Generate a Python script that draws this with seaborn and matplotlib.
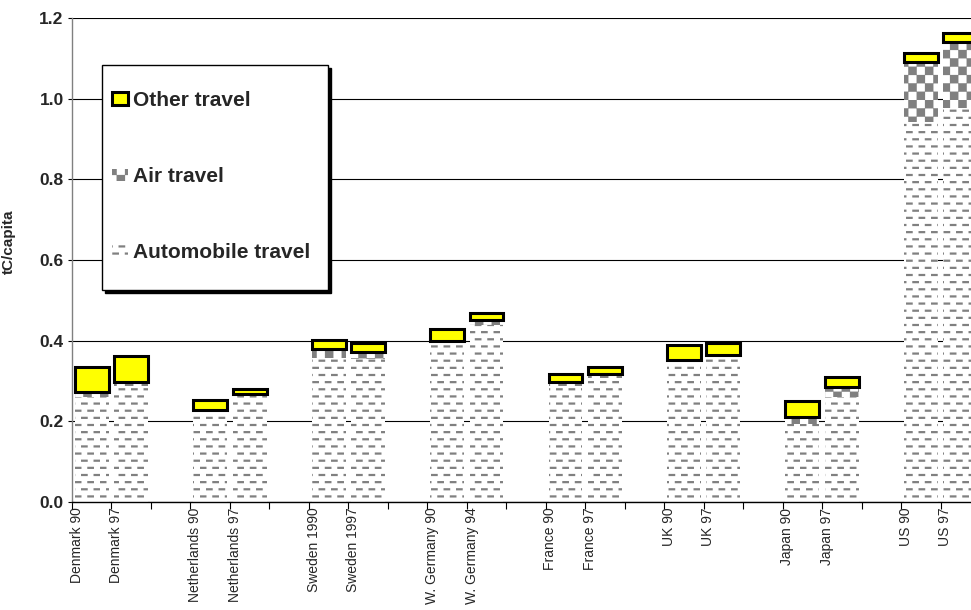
import numpy as np
import pandas as pd
import matplotlib
matplotlib.use("Agg")
import matplotlib.pyplot as plt
import matplotlib.hatch as mhatch
from matplotlib.path import Path
from matplotlib.patches import Rectangle
from matplotlib.transforms import ScaledTranslation
import seaborn as sns

# ---- data (tC per capita) ----
labels = ["Denmark 90", "Denmark 97", "Netherlands 90", "Netherlands 97",
          "Sweden 1990", "Sweden 1997", "W. Germany 90", "W. Germany 94",
          "France 90", "France 97", "UK 90", "UK 97",
          "Japan 90", "Japan 97", "US 90", "US 97"]
auto = [0.261, 0.288, 0.226, 0.265, 0.357, 0.355, 0.395, 0.439,
        0.288, 0.308, 0.347, 0.360, 0.194, 0.261, 0.943, 0.978]
air = [0.012, 0.010, 0.002, 0.003, 0.023, 0.017, 0.005, 0.013,
       0.010, 0.010, 0.005, 0.005, 0.017, 0.024, 0.149, 0.163]
other = [0.062, 0.064, 0.024, 0.013, 0.022, 0.023, 0.029, 0.017,
         0.020, 0.017, 0.038, 0.030, 0.040, 0.025, 0.020, 0.023]
series_names = ["Automobile travel", "Air travel", "Other travel"]
y_ticks = [0.0, 0.2, 0.4, 0.6, 0.8, 1.0, 1.2]


# ---- fill patterns: staggered dashes and a checkerboard ----
class DashRows(mhatch.HatchPatternBase):
    rows = 14
    dashes = 8

    def __init__(self, hatch, density):
        n = hatch.count('-')
        self.num_rows = n * self.rows
        self.num_vertices = self.num_rows * self.dashes * 2

    def set_vertices_and_codes(self, vertices, codes):
        p = 1.0 / self.dashes
        d = 0.36 * p
        k = 0
        for r in range(self.num_rows):
            y = (r + 0.5) / self.num_rows
            off = 0.0 if r % 2 == 0 else 0.5 * p
            for i in range(self.dashes):
                x0 = i * p + off + 0.07 * p
                vertices[k] = (x0, y)
                vertices[k + 1] = (x0 + d, y)
                codes[k] = Path.MOVETO
                codes[k + 1] = Path.LINETO
                k += 2


class Checker(mhatch.HatchPatternBase):
    cells = 12

    def __init__(self, hatch, density):
        n = hatch.count('x')
        self.active = n > 0
        self.num_vertices = (self.cells * self.cells // 2) * 5 if self.active else 0

    def set_vertices_and_codes(self, vertices, codes):
        s = 1.0 / self.cells
        shrink = 0.010
        k = 0
        for i in range(self.cells):
            for j in range(self.cells):
                if (i + j) % 2:
                    continue
                x0, y0 = i * s + shrink, j * s + shrink
                x1, y1 = (i + 1) * s - shrink, (j + 1) * s - shrink
                vertices[k:k + 5] = [(x0, y0), (x1, y0), (x1, y1), (x0, y1), (x0, y0)]
                codes[k:k + 5] = [Path.MOVETO, Path.LINETO, Path.LINETO,
                                  Path.LINETO, Path.CLOSEPOLY]
                k += 5


mhatch._hatch_types = [DashRows, Checker]

sns.set_theme(style="white")
plt.rcParams["font.family"] = ["Liberation Sans", "DejaVu Sans"]
plt.rcParams["hatch.linewidth"] = 1.6
plt.rcParams["hatch.color"] = "#808080"

W, H = 971, 610
fig = plt.figure(figsize=(W / 100, H / 100), dpi=100)
ax = fig.add_axes([72 / W, 108 / H, 908 / W, 484 / H])

# two bars per country, one empty slot between countries
pos = np.array([3 * (i // 2) + i % 2 for i in range(len(labels))], dtype=float)
auto_a = np.array(auto)
air_a = np.array(air)
other_a = np.array(other)

common = dict(native_scale=True, width=0.86, errorbar=None, saturation=1, ax=ax)
sns.barplot(x=pos, y=auto_a, color="white", hatch="-", edgecolor="#808080",
            linewidth=0, label=series_names[0], **common)
sns.barplot(x=pos, y=air_a, bottom=auto_a, color="white", hatch="x",
            edgecolor="#808080", linewidth=0, label=series_names[1], **common)
sns.barplot(x=pos, y=other_a, bottom=auto_a + air_a, color="#FFFF00",
            edgecolor="black", linewidth=2.2, label=series_names[2], **common)

ax.set_yticks(y_ticks)
ax.set_yticklabels([f"{v:.1f}" for v in y_ticks], fontsize=12.5, fontweight="bold")
ax.yaxis.grid(True, color="black", linewidth=0.8)
ax.set_axisbelow(True)

ax.set_xticks(pos)
ax.set_xticklabels(labels, rotation=90, fontsize=10, va="top", ha="center")
ax.set_xticks(np.arange(-0.5, pos[-1] + 1.0, 1.0), minor=True)
ax.tick_params(axis="x", which="major", length=0, pad=4)
ax.tick_params(axis="x", which="minor", length=5, width=0.8, color="black",
               direction="out", bottom=True)
ax.tick_params(axis="y", length=3, width=0.8, color="black", direction="out",
               left=True, pad=3)
shift = ScaledTranslation(-0.15, 0, fig.dpi_scale_trans)
for t in ax.get_xticklabels():
    t.set_transform(t.get_transform() + shift)

for side in ("top", "right"):
    ax.spines[side].set_visible(False)
ax.spines["left"].set_color("#808080")
ax.spines["left"].set_linewidth(1.0)
ax.spines["bottom"].set_color("black")
ax.spines["bottom"].set_linewidth(1.0)

ax.set_xlabel("")
ax.set_ylabel("tC/capita", fontsize=11, fontweight="bold")
ax.yaxis.set_label_coords(-0.062, 0.537)

# legend box with a hard drop shadow
bx, by, bw, bh = 102 / W, 1 - 290 / H, 226 / W, 225 / H
shadow = Rectangle((bx + 3 / W, by - 3 / H), bw, bh, transform=fig.transFigure,
                   facecolor="black", edgecolor="black", linewidth=1.0, zorder=3.9)
box = Rectangle((bx, by), bw, bh, transform=fig.transFigure,
                facecolor="white", edgecolor="black", linewidth=1.0, zorder=4)
ax.add_patch(shadow)
ax.add_patch(box)

handles, names = ax.get_legend_handles_labels()
leg = ax.legend(handles[::-1], names[::-1], loc="upper left",
                bbox_to_anchor=(0.044, 0.849), borderaxespad=0, borderpad=0,
                prop={"weight": "bold", "size": 15}, frameon=False,
                handlelength=0.78, handleheight=0.55, handletextpad=0.25,
                labelspacing=2.74)
leg.set_zorder(6)

ax.set_xlim(-0.5, pos[-1] + 0.5)
ax.set_ylim(0, 1.2)

fig.savefig("out.png", dpi=100)
